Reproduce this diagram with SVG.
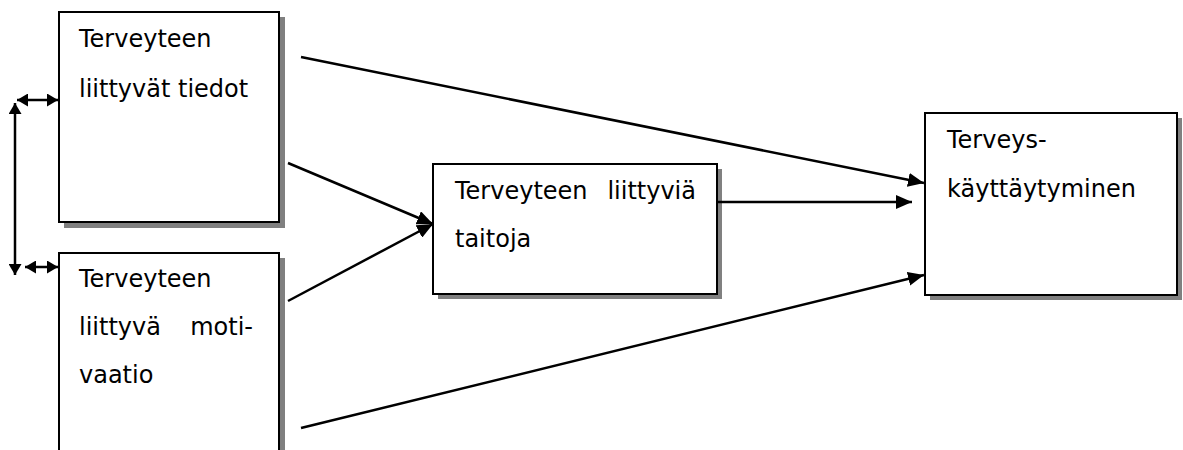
<svg xmlns="http://www.w3.org/2000/svg" width="1183" height="450" viewBox="0 0 1183 450">
<style>
.box{fill:#fff;stroke:#000;stroke-width:2}
.sh{fill:#808080}
.t{font-family:"DejaVu Sans",sans-serif;font-size:24px;fill:#000}
.c{stroke:#000;stroke-width:2.5;fill:none}
</style>
<defs>
<marker id="ah" markerUnits="userSpaceOnUse" markerWidth="16" markerHeight="14" refX="16" refY="7" orient="auto"><path d="M0,0 L16,7 L0,14 Z" fill="#000"/></marker>
<marker id="as" markerUnits="userSpaceOnUse" markerWidth="11" markerHeight="13" refX="11" refY="6.5" orient="auto-start-reverse"><path d="M0,0 L11,6.5 L0,13 Z" fill="#000"/></marker>
</defs>
<g id="n1">
<rect class="sh" x="64" y="17" width="221" height="211"/>
<rect class="box" x="59" y="12" width="220" height="210"/>
<text class="t" x="79" y="47">Terveyteen</text>
<text class="t" x="79" y="97">liittyvät tiedot</text>
</g>
<g id="n2">
<rect class="sh" x="64" y="258" width="221" height="210"/>
<rect class="box" x="59" y="253" width="220" height="210"/>
<text class="t" x="79" y="287">Terveyteen</text>
<text class="t" x="79" y="335">liittyvä</text>
<text class="t" x="253" y="335" text-anchor="end">moti-</text>
<text class="t" x="79" y="383">vaatio</text>
</g>
<g id="n3">
<rect class="sh" x="438" y="169" width="284" height="130"/>
<rect class="box" x="433" y="164" width="284" height="130"/>
<text class="t" x="455" y="199">Terveyteen</text>
<text class="t" x="696" y="199" text-anchor="end">liittyviä</text>
<text class="t" x="455" y="247">taitoja</text>
</g>
<g id="n4">
<rect class="sh" x="930" y="118" width="252" height="182"/>
<rect class="box" x="925" y="113" width="252" height="182"/>
<text class="t" x="947" y="148">Terveys-</text>
<text class="t" x="947" y="197">käyttäytyminen</text>
</g>
<g id="connectors">
<line class="c" x1="301" y1="57" x2="924" y2="183" marker-end="url(#ah)"/>
<line class="c" x1="717" y1="202" x2="912" y2="202" marker-end="url(#ah)"/>
<line class="c" x1="301" y1="428" x2="924" y2="275" marker-end="url(#ah)"/>
<line class="c" x1="288" y1="163" x2="433" y2="224" marker-end="url(#ah)"/>
<line class="c" x1="288" y1="301" x2="433" y2="224" marker-end="url(#ah)"/>
<line class="c" x1="15" y1="103" x2="15" y2="275" marker-start="url(#as)" marker-end="url(#as)"/>
<line class="c" x1="17" y1="100" x2="58" y2="100" marker-start="url(#as)" marker-end="url(#as)"/>
<line class="c" x1="25" y1="267" x2="58" y2="267" marker-start="url(#as)" marker-end="url(#as)"/>
</g>
</svg>
